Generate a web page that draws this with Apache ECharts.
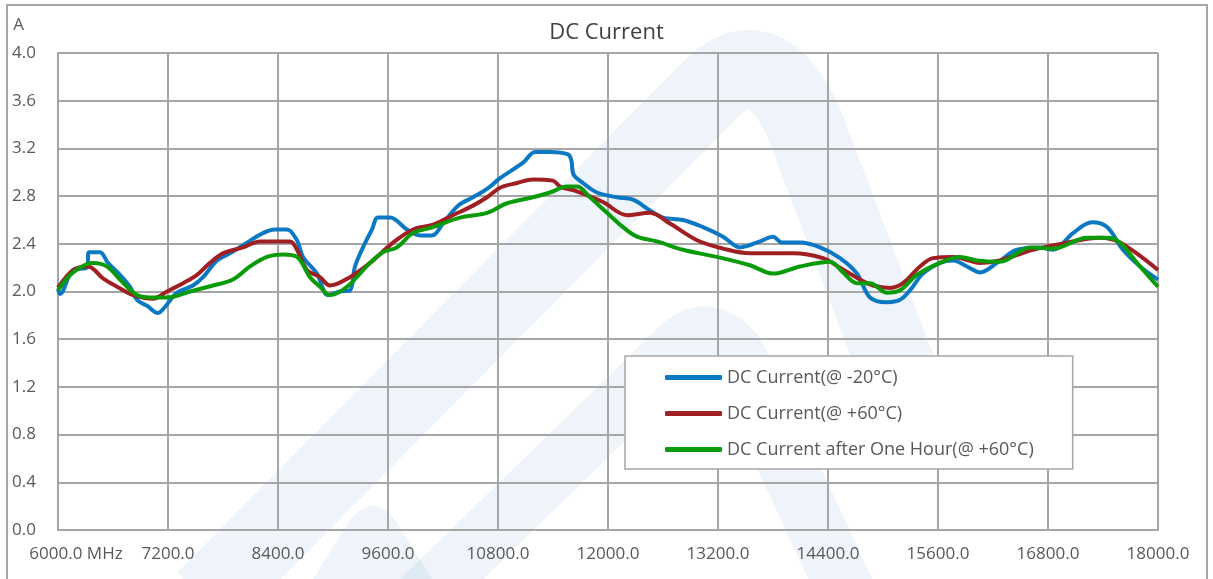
<!DOCTYPE html>
<html><head><meta charset="utf-8">
<script src="https://cdn.jsdelivr.net/npm/echarts@6/dist/echarts.min.js"></script>
<style>html,body{margin:0;padding:0;background:#fff}#c{width:1213px;height:579px}</style>
</head><body><div id="c"></div>
<script>
const xTicks = [6000,7200,8400,9600,10800,12000,13200,14400,15600,16800,18000];
const yTicks = [0,0.4,0.8,1.2,1.6,2.0,2.4,2.8,3.2,3.6,4.0];
const seriesNames = ['DC Current(@ -20°C)','DC Current(@ +60°C)','DC Current after One Hour(@ +60°C)'];

const blueFreq = [6000,6022,6164,6316,6338,6458,6545,6676,6785,6862,6971,7091,7167,7298,7473,7582,7735,7876,8062,8236,8367,8498,8607,8673,8825,8945,9076,9185,9240,9327,9425,9491,9622,9807,9949,10080,10200,10364,10527,10680,10822,11073,11204,11367,11564,11600,11625,11727,11880,12098,12273,12458,12600,12818,13036,13255,13440,13658,13800,13898,14094,14313,14531,14716,14858,15044,15185,15294,15436,15622,15764,15916,16058,16244,16462,16713,16855,17073,17280,17444,17618,17804,18000];
const blueVal = [2.02,1.98,2.18,2.20,2.33,2.33,2.24,2.14,2.04,1.93,1.88,1.82,1.87,1.99,2.05,2.12,2.26,2.32,2.41,2.49,2.52,2.52,2.43,2.29,2.15,1.97,2.00,2.01,2.21,2.37,2.52,2.62,2.62,2.52,2.47,2.47,2.57,2.72,2.79,2.86,2.95,3.08,3.17,3.17,3.15,3.10,2.98,2.91,2.83,2.79,2.77,2.68,2.62,2.60,2.54,2.46,2.37,2.42,2.46,2.41,2.41,2.37,2.28,2.15,1.95,1.91,1.93,2.01,2.15,2.24,2.26,2.21,2.16,2.24,2.35,2.37,2.35,2.49,2.58,2.54,2.35,2.21,2.10];

const redFreq = [6000,6164,6327,6491,6644,6818,7036,7189,7364,7516,7658,7800,8018,8204,8531,8607,8716,8858,8967,9185,9404,9655,9873,10091,10309,10527,10680,10822,11007,11182,11400,11476,11662,11945,12207,12458,12676,12971,13255,13549,14018,14345,14531,14749,14891,15076,15218,15404,15545,15764,16058,16276,16636,17007,17367,17585,18000];
const redVal = [2.03,2.18,2.21,2.11,2.04,1.97,1.94,2.00,2.07,2.14,2.24,2.32,2.37,2.42,2.42,2.35,2.18,2.12,2.05,2.12,2.24,2.41,2.52,2.56,2.64,2.72,2.79,2.87,2.91,2.94,2.93,2.88,2.84,2.75,2.64,2.66,2.57,2.43,2.36,2.32,2.32,2.28,2.20,2.10,2.05,2.03,2.07,2.21,2.28,2.29,2.24,2.26,2.35,2.41,2.45,2.41,2.18];

const greenFreq = [6000,6164,6382,6535,6676,6862,7004,7189,7440,7691,7909,8095,8280,8455,8607,8749,8858,8967,9153,9404,9545,9698,9873,10091,10385,10680,10898,11182,11367,11553,11662,11804,11989,12164,12316,12535,12818,13189,13549,13800,14094,14422,14564,14716,14858,15044,15185,15371,15622,15840,16025,16276,16604,16855,17225,17444,17585,17771,18000];
const greenVal = [2.01,2.16,2.24,2.21,2.10,1.97,1.95,1.95,2.00,2.05,2.10,2.21,2.29,2.31,2.29,2.12,2.04,1.97,2.04,2.24,2.33,2.37,2.49,2.54,2.62,2.66,2.74,2.79,2.83,2.88,2.88,2.79,2.66,2.54,2.46,2.42,2.35,2.29,2.22,2.15,2.21,2.25,2.16,2.07,2.07,1.99,2.01,2.14,2.24,2.29,2.26,2.25,2.37,2.36,2.45,2.45,2.41,2.24,2.04];

const colors = ['#0b78c3','#a01f22','#0a9b0a'];
const FONT = 'Open Sans';
const gray = '#595959';
const gridColor = '#a6a6a6';
const wm = 'rgba(70,130,190,0.09)';

function pairs(f, v){ return f.map((x,i)=>[x, v[i]]); }
const allData = [pairs(blueFreq,blueVal), pairs(redFreq,redVal), pairs(greenFreq,greenVal)];

// decorative watermark arch (leg - quadratic top - leg)
function arch(a, b, c, d, e){
  const pts = [a, b];
  for (let t = 0.1; t < 1; t += 0.1) {
    const u = 1 - t;
    pts.push([u*u*b[0] + 2*u*t*c[0] + t*t*d[0], u*u*b[1] + 2*u*t*c[1] + t*t*d[1]]);
  }
  pts.push(d, e);
  return pts;
}

const chart = echarts.init(document.getElementById('c'), null, {renderer:'canvas'});
chart.setOption({
  animation:false,
  backgroundColor:'#fff',
  title:{text:'DC Current', left:'center', top:22, padding:0,
    textStyle:{fontFamily:FONT, fontSize:22, fontWeight:'normal', color:'#404040'}},
  grid:{left:58, right:55, top:53, bottom:49, containLabel:false},
  legend:{
    orient:'vertical', left:625, top:356, z:10,
    padding:[11,39,9,40], itemGap:15, itemWidth:57, itemHeight:5,
    backgroundColor:'#fff', borderColor:gridColor, borderWidth:1.5,
    icon:'roundRect',
    textStyle:{fontFamily:FONT, fontSize:18, color:gray, lineHeight:21},
    data:seriesNames
  },
  xAxis:{
    type:'value', min:xTicks[0], max:xTicks[xTicks.length-1], interval:xTicks[1]-xTicks[0],
    axisLine:{show:true, lineStyle:{color:gridColor, width:2}},
    axisTick:{show:false},
    splitLine:{show:true, lineStyle:{color:gridColor, width:2}},
    axisLabel:{
      fontFamily:FONT, fontSize:17, color:gray, margin:16,
      formatter:function(v){ return v===xTicks[0] ? '{a|'+v.toFixed(1)+' MHz}' : v.toFixed(1); },
      rich:{a:{fontFamily:FONT, fontSize:17, color:gray, padding:[0,0,0,36]}}
    }
  },
  yAxis:{
    type:'value', min:yTicks[0], max:yTicks[yTicks.length-1], interval:0.4,
    name:'A', nameLocation:'end', nameGap:19,
    nameTextStyle:{fontFamily:FONT, fontSize:17, color:gray, align:'right', padding:[0,34,0,0]},
    axisLine:{show:true, lineStyle:{color:gridColor, width:2}},
    axisTick:{show:false},
    splitLine:{show:true, lineStyle:{color:gridColor, width:2}},
    axisLabel:{fontFamily:FONT, fontSize:17, color:gray, align:'left', margin:46,
      formatter:function(v){ return v.toFixed(1); }}
  },
  graphic:[
    {type:'rect', silent:true, z:-5, shape:{x:7, y:5, width:1200, height:600},
      style:{fill:null, stroke:'#a6a6a6', lineWidth:2}},
    {type:'polyline', silent:true, z:-5,
      shape:{points:arch([205,600],[712,88],[762,38],[802,118],[905,390])},
      style:{fill:null, stroke:wm, lineWidth:78, lineJoin:'round'}},
    {type:'polyline', silent:true, z:-5,
      shape:{points:arch([420,600],[677,350],[708,318],[737,356],[850,600])},
      style:{fill:null, stroke:wm, lineWidth:58, lineJoin:'round'}},
    {type:'polygon', silent:true, z:-5,
      shape:{points:arch([300,600],[350,520],[372,492],[395,520],[445,600]), smooth:0},
      style:{fill:wm}}
  ],
  series: seriesNames.map((n,i)=>({
    name:n, type:'line', data:allData[i], smooth:0.35, showSymbol:false, symbol:'none',
    lineStyle:{color:colors[i], width:4}, itemStyle:{color:colors[i]}, z:2+i
  }))
});
</script></body></html>
